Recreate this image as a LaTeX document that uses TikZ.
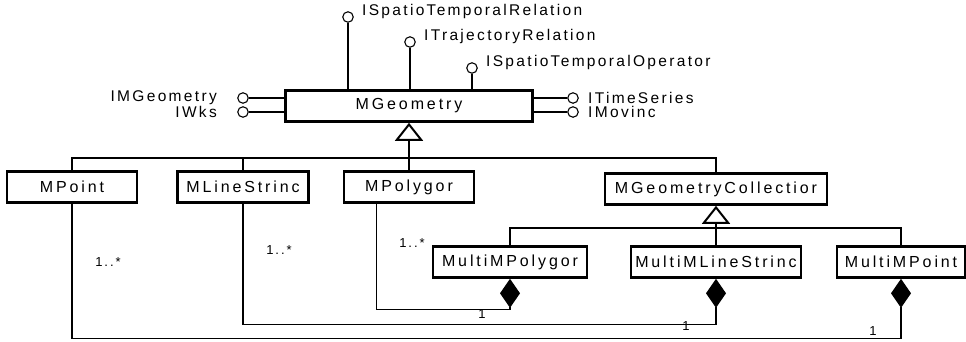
\documentclass[tikz,border=0pt]{standalone}
\usepackage{fontspec}
\usetikzlibrary{arrows.meta}
\newfontfamily\boxfont[LetterSpace=18]{Liberation Sans}
\newfontfamily\lblfont[LetterSpace=15]{Liberation Sans}
\begin{document}
\begin{tikzpicture}[x=1pt,y=-1pt,
  cls/.style={draw,line width=2.6pt,inner sep=0pt,minimum height=31pt,font=\boxfont\fontsize{16}{18}\selectfont},
  ifc/.style={draw,circle,line width=1.1pt,minimum size=10.5pt,inner sep=0pt},
  lbl/.style={font=\lblfont\fontsize{15.5}{16}\selectfont,inner sep=0pt},
  mult/.style={font=\lblfont\fontsize{13}{14}\selectfont,inner sep=0pt},
  gen/.style={line width=1.2pt,-{Triangle[open,length=18pt,width=28pt,line width=2pt]}},
  comp/.style={line width=1.2pt,{Diamond[length=29pt,width=20pt]}-}]
\useasboundingbox (0,0) rectangle (966,341);
% classes
\node[cls,minimum width=247pt] (geo) at (409,106) {MGeometry};
\node[cls,minimum width=130pt] (pt) at (72,187) {MPoint};
\node[cls,minimum width=131pt] (ls) at (243,187) {MLineStrinc};
\node[cls,minimum width=130pt] (pg) at (409,187) {MPolygor};
\node[cls,minimum width=222pt] (gc) at (716,189) {MGeometryCollectior};
\node[cls,minimum width=154pt] (mpg) at (510,262) {MultiMPolygor};
\node[cls,minimum width=170pt] (mls) at (716,262) {MultiMLineStrinc};
\node[cls,minimum width=128pt] (mpt) at (901,262) {MultiMPoint};
% interfaces
\foreach \n/\x/\y/\t in {str/348/17/ISpatioTemporalRelation,trj/410/42/ITrajectoryRelation,sto/472/68/ISpatioTemporalOperator} {
  \node[ifc] (c\n) at (\x,\y) {};
  \node[lbl,anchor=south west] (l\n) at (\x+14,\y+2) {\t};
  \draw[line width=1.2pt] (c\n) -- (c\n |- geo.north);
}
\foreach \n/\y/\t in {img/98/IMGeometry,wks/112/IWks} {
  \node[ifc] (c\n) at (243,\y) {};
  \node[lbl,anchor=east] (l\n) at (217,\y) {\t};
  \draw[line width=1.2pt] (c\n) -- (c\n -| geo.west);
}
\foreach \n/\y/\t in {tms/98/ITimeSeries,mov/112/IMovinc} {
  \node[ifc] (c\n) at (573,\y) {};
  \node[lbl,anchor=west] (l\n) at (588,\y) {\t};
  \draw[line width=1.2pt] (c\n) -- (c\n -| geo.east);
}
% generalization
\coordinate (bus) at (409,158);
\coordinate (bus2) at (716,228);
\draw[line width=1.2pt] (pt.north) |- (bus) -| (gc.north);
\draw[line width=1.2pt] (ls.north) -- (ls.north |- bus);
\draw[gen] (pg.north) -- (geo.south);
\draw[line width=1.2pt] (mpg.north) |- (bus2) -| (mpt.north);
\draw[gen] (mls.north) -- (gc.south);
% composition
\draw[comp] (mpg.south) -- ++(0,31) -| ([xshift=34pt]pg.south west);
\draw[comp] (mls.south) -- ++(0,46) -| (ls.south);
\draw[comp] (mpt.south) -- ++(0,60) -| (pt.south);
\node[mult] (m1) at (108,262) {1..*};
\node[mult] (m2) at (279,250) {1..*};
\node[mult] (m3) at (412,243) {1..*};
\node[mult] (o1) at (482,314) {1};
\node[mult] (o2) at (686,326) {1};
\node[mult] (o3) at (873,331) {1};
\end{tikzpicture}
\end{document}
